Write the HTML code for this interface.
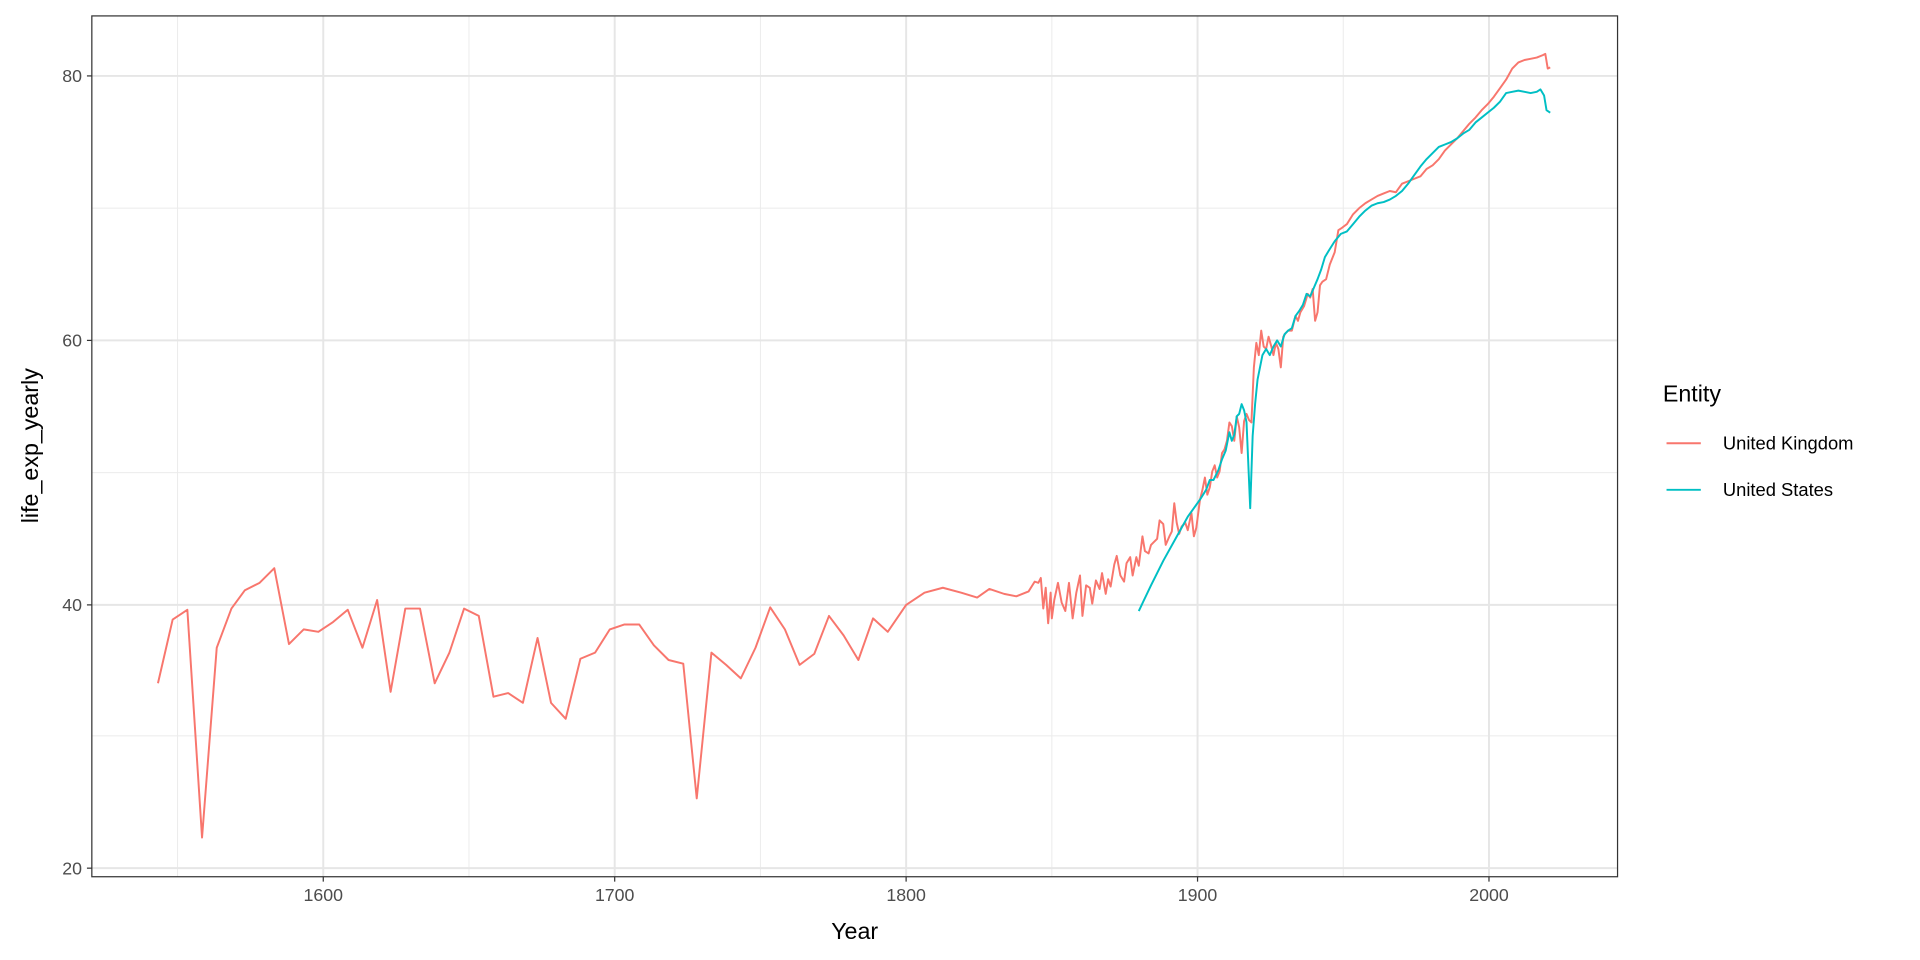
<!DOCTYPE html>
<html><head><meta charset="utf-8"><style>
html,body{margin:0;padding:0;background:#fff;}
svg{display:block;}
text{font-family:"Liberation Sans",Arial,sans-serif;}
</style></head><body>
<svg width="1920" height="960" viewBox="0 0 1568 784" xmlns="http://www.w3.org/2000/svg">
<rect x="0" y="0" width="1568" height="784" fill="#fff"/>
<g stroke="#ebebeb" stroke-width="0.8" fill="none">
<line x1="75" x2="1321" y1="601" y2="601"/><line x1="75" x2="1321" y1="386" y2="386"/><line x1="75" x2="1321" y1="170" y2="170"/>
<line y1="13" y2="716" x1="145" x2="145"/><line y1="13" y2="716" x1="383" x2="383"/><line y1="13" y2="716" x1="621" x2="621"/><line y1="13" y2="716" x1="859" x2="859"/><line y1="13" y2="716" x1="1097" x2="1097"/>
</g>
<g stroke="#e6e6e6" stroke-width="1.6" fill="none">
<line x1="75" x2="1321" y1="709" y2="709"/><line x1="75" x2="1321" y1="494" y2="494"/><line x1="75" x2="1321" y1="278" y2="278"/><line x1="75" x2="1321" y1="62" y2="62"/>
<line y1="13" y2="716" x1="264" x2="264"/><line y1="13" y2="716" x1="502" x2="502"/><line y1="13" y2="716" x1="740" x2="740"/><line y1="13" y2="716" x1="978" x2="978"/><line y1="13" y2="716" x1="1216" x2="1216"/>
</g>
<polyline fill="none" stroke="#F8766D" stroke-width="1.6" stroke-linejoin="round" points="129,558 141,506 153,498 165,684 177,529 189,497 200,482 212,476 224,464 236,526 248,514 260,516 272,508 284,498 296,529 308,490 319,565 331,497 343,497 355,558 367,533 379,497 391,503 403,569 415,566 427,574 439,521 450,574 462,587 474,538 486,533 498,514 510,510 522,510 534,527 546,539 558,542 569,652 581,533 593,543 605,554 617,529 629,496 641,514 653,543 665,534 677,503 689,519 701,539 713,505 725,516 740,494 755,484 770,480 785,484 798,488 808,481 820,485 830,487 840,483 845,475 848,476 850,472 852,497 854,480 856,509 858,484 859,505 861,490 864,476 867,492 870,499 873,476 876,505 879,484 882,470 884,503 887,478 890,480 892,493 895,474 898,481 900,468 903,485 905,473 907,479 910,461 912,454 915,470 918,475 920,460 923,455 925,470 928,455 930,462 933,438 935,450 938,452 940,445 942,443 945,440 947,425 950,428 952,445 955,438 957,434 959,411 961,427 963,436 965,430 968,427 970,433 973,419 975,438 977,431 980,408 982,400 984,390 986,404 988,398 990,385 992,380 994,390 996,385 998,370 1000,367 1002,360 1004,345 1006,348 1008,360 1010,340 1012,349 1014,370 1016,344 1018,338 1020,343 1022,345 1024,300 1026,280 1028,290 1030,270 1032,283 1034,285 1036,275 1038,282 1040,290 1042,280 1044,285 1046,300 1048,275 1050,272 1052,270 1055,270 1058,258 1060,262 1062,255 1065,250 1068,240 1070,243 1072,236 1074,262 1076,255 1078,233 1080,230 1083,228 1086,216 1090,206 1093,188 1096,186 1100,183 1105,175 1110,170 1115,166 1120,163 1125,160 1130,158 1135,156 1140,157 1145,150 1150,148 1155,146 1160,144 1165,138 1170,135 1175,130 1180,123 1185,118 1190,113 1195,107 1200,101 1205,96 1210,90 1215,85 1220,79 1225,72 1230,65 1235,56 1240,51 1245,49 1250,48 1255,47 1260,45 1262,44 1264,56 1266,55"/>
<polyline fill="none" stroke="#00BFC4" stroke-width="1.6" stroke-linejoin="round" points="930,499 940,478 950,458 960,440 970,422 980,408 985,400 988,392 991,392 995,384 998,375 1001,368 1004,353 1006,360 1008,355 1010,340 1012,338 1014,330 1016,335 1018,345 1021,415 1023,356 1025,330 1027,310 1029,300 1031,290 1034,285 1037,290 1040,283 1043,278 1046,283 1049,273 1052,270 1055,268 1058,258 1061,254 1064,249 1067,240 1070,242 1073,235 1076,228 1079,220 1082,210 1085,205 1090,197 1095,191 1100,189 1105,183 1110,177 1115,172 1120,168 1125,166 1130,165 1135,163 1140,160 1145,156 1150,150 1155,143 1160,136 1165,130 1170,125 1175,120 1180,118 1185,116 1190,113 1195,109 1200,106 1205,100 1210,96 1215,92 1220,88 1225,83 1230,76 1235,75 1240,74 1245,75 1250,76 1255,75 1258,73 1261,78 1263,90 1266,92"/>
<rect x="75" y="13" width="1246" height="703" fill="none" stroke="#333" stroke-width="1"/>
<g stroke="#333" stroke-width="1">
<line x1="71" x2="75" y1="709" y2="709"/><line x1="71" x2="75" y1="494" y2="494"/><line x1="71" x2="75" y1="278" y2="278"/><line x1="71" x2="75" y1="62" y2="62"/>
<line y1="716" y2="720" x1="264" x2="264"/><line y1="716" y2="720" x1="502" x2="502"/><line y1="716" y2="720" x1="740" x2="740"/><line y1="716" y2="720" x1="978" x2="978"/><line y1="716" y2="720" x1="1216" x2="1216"/>
</g>
<g font-size="14.5" fill="#4d4d4d" text-anchor="end">
<text x="67" y="714">20</text><text x="67" y="499">40</text><text x="67" y="283">60</text><text x="67" y="67">80</text>
</g>
<g font-size="14.5" fill="#4d4d4d" text-anchor="middle">
<text x="264" y="736">1600</text><text x="502" y="736">1700</text><text x="740" y="736">1800</text><text x="978" y="736">1900</text><text x="1216" y="736">2000</text>
</g>
<text x="698" y="767" font-size="19" text-anchor="middle" fill="#000">Year</text>
<text transform="translate(31,364) rotate(-90)" font-size="19" text-anchor="middle" fill="#000">life_exp_yearly</text>
<text x="1358" y="328" font-size="19" fill="#000">Entity</text>
<line x1="1361" x2="1389" y1="362" y2="362" stroke="#F8766D" stroke-width="1.6"/>
<line x1="1361" x2="1389" y1="400" y2="400" stroke="#00BFC4" stroke-width="1.6"/>
<text x="1407" y="367" font-size="15" fill="#000">United Kingdom</text>
<text x="1407" y="405" font-size="15" fill="#000">United States</text>
</svg>
</body></html>
